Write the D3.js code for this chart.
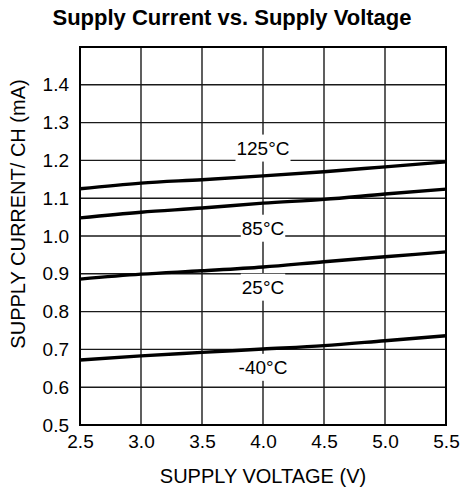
<!DOCTYPE html>
<html>
<head>
<meta charset="utf-8">
<script src="https://cdn.jsdelivr.net/npm/d3@7"></script>
<style>
  body { margin: 0; background: #fff; }
  text { font-family: "Liberation Sans", Arial, sans-serif; }
</style>
</head>
<body>
<div id="chart"></div>
<script>
// supply voltage (V)
const voltage = [2.5, 3.0, 3.5, 4.0, 4.5, 5.0, 5.5]
// supply current per channel (mA), one series per temperature
const cur125 = [1.125, 1.140, 1.149, 1.159, 1.170, 1.183, 1.196]
const cur85 = [1.048, 1.063, 1.074, 1.087, 1.097, 1.111, 1.124]
const cur25 = [0.886, 0.899, 0.908, 0.918, 0.932, 0.945, 0.958]
const curM40 = [0.672, 0.683, 0.692, 0.701, 0.710, 0.723, 0.736]

const seriesNames = ["125°C", "85°C", "25°C", "-40°C"]
// label anchor (V, mA) for each temperature
const labelAt = [[4.0, 1.233], [4.0, 1.021], [4.0, 0.865], [4.0, 0.653]]

const xTicks = [2.5, 3.0, 3.5, 4.0, 4.5, 5.0, 5.5]
const yTicks = [0.5, 0.6, 0.7, 0.8, 0.9, 1.0, 1.1, 1.2, 1.3, 1.4]

const W = 463, H = 492
const margin = { top: 47, right: 17, bottom: 67, left: 80 }
const width = W - margin.left - margin.right
const height = H - margin.top - margin.bottom

const svg = d3.select("#chart").append("svg")
    .attr("width", W)
    .attr("height", H)

svg.append("text")
    .attr("x", 232)
    .attr("y", 25)
    .attr("text-anchor", "middle")
    .style("font-size", "22px")
    .style("font-weight", "bold")
    .text("Supply Current vs. Supply Voltage")

const g = svg.append("g")
    .attr("transform", "translate(" + margin.left + "," + margin.top + ")")

const x = d3.scaleLinear().domain([2.5, 5.5]).range([0, width])
const y = d3.scaleLinear().domain([0.5, 1.5]).range([height, 0])

// grid
g.append("g")
    .selectAll("line")
    .data(xTicks)
    .enter().append("line")
    .attr("x1", d => x(d)).attr("x2", d => x(d))
    .attr("y1", 0).attr("y2", height)
    .attr("stroke", "#1a1a1a")
    .attr("stroke-width", 1.4)

g.append("g")
    .selectAll("line")
    .data(yTicks.concat([1.5]))
    .enter().append("line")
    .attr("x1", 0).attr("x2", width)
    .attr("y1", d => y(d)).attr("y2", d => y(d))
    .attr("stroke", "#1a1a1a")
    .attr("stroke-width", 1.4)

g.append("rect")
    .attr("width", width)
    .attr("height", height)
    .attr("fill", "none")
    .attr("stroke", "#000")
    .attr("stroke-width", 2)

// axes (labels only, the frame is drawn above)
const xAxis = d3.axisBottom(x).tickValues(xTicks).tickFormat(d3.format(".1f")).tickSize(0).tickPadding(10)
const yAxis = d3.axisLeft(y).tickValues(yTicks).tickFormat(d3.format(".1f")).tickSize(0).tickPadding(11)

g.append("g")
    .attr("transform", "translate(0," + height + ")")
    .call(xAxis)
    .call(a => a.select(".domain").remove())
    .selectAll("text")
    .style("font-size", "19px")
    .style("font-family", "Liberation Sans, Arial, sans-serif")
    .attr("fill", "#000")

g.append("g")
    .call(yAxis)
    .call(a => a.select(".domain").remove())
    .selectAll("text")
    .style("font-size", "19px")
    .style("font-family", "Liberation Sans, Arial, sans-serif")
    .attr("fill", "#000")

// curves
const allSeries = [cur125, cur85, cur25, curM40]
const line = d3.line()
    .x((d, i) => x(voltage[i]))
    .y(d => y(d))
    .curve(d3.curveMonotoneX)

g.selectAll(".curve")
    .data(allSeries)
    .enter().append("path")
    .attr("class", "curve")
    .attr("d", d => line(d))
    .attr("fill", "none")
    .attr("stroke", "#000")
    .attr("stroke-width", 3.4)

// temperature labels on white boxes
seriesNames.forEach((name, i) => {
    const lg = g.append("g")
        .attr("transform", "translate(" + x(labelAt[i][0]) + "," + y(labelAt[i][1]) + ")")
    const bg = lg.append("rect").attr("fill", "#fff")
    const t = lg.append("text")
        .attr("text-anchor", "middle")
        .attr("dy", "0.35em")
        .style("font-size", "19px")
        .text(name)
    const bb = t.node().getBBox()
    bg.attr("x", bb.x - 1).attr("y", bb.y - 3)
        .attr("width", bb.width + 2).attr("height", bb.height + 6)
})

// axis titles
svg.append("text")
    .attr("x", margin.left + width / 2)
    .attr("y", 483)
    .attr("text-anchor", "middle")
    .style("font-size", "20px")
    .text("SUPPLY VOLTAGE (V)")

svg.append("text")
    .attr("transform", "translate(25," + 214 + ") rotate(-90)")
    .attr("text-anchor", "middle")
    .style("font-size", "20px")
    .text("SUPPLY CURRENT/ CH (mA)")
</script>
</body>
</html>
